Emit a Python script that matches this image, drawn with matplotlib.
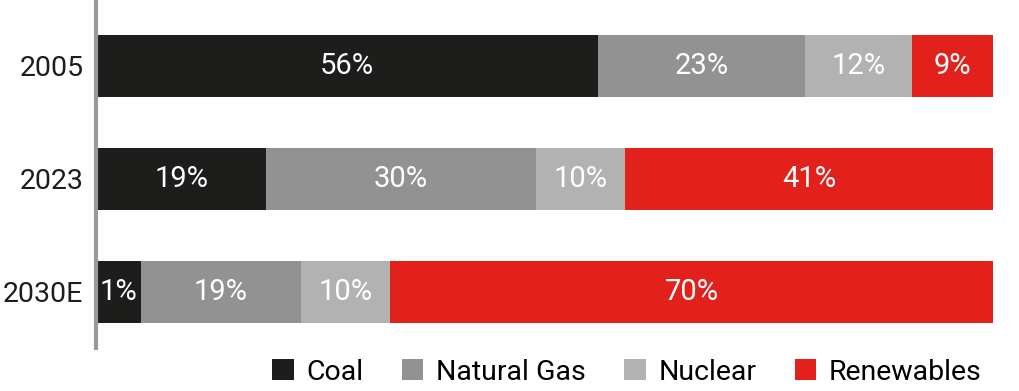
import matplotlib.pyplot as plt
from matplotlib.patches import Patch

years = ['2005', '2023', '2030E']
sources = ['Coal', 'Natural Gas', 'Nuclear', 'Renewables']
colors = ['#1d1d1b', '#929292', '#b2b2b2', '#e2211c']

# shares as printed on the bars
labels = [
    [56, 23, 12, 9],
    [19, 30, 10, 41],
    [1, 19, 10, 70],
]
# segment widths as drawn (the 1% coal bar is drawn wider)
widths = [
    [56, 23, 12, 9],
    [19, 30, 10, 41],
    [5, 17.8, 10, 67.2],
]

fig = plt.figure(figsize=(10.19, 3.91), dpi=100)
ax = fig.add_axes([96 / 1019, 1 - 348 / 391, (993 - 96) / 1019, 348 / 391])

for i, yr in enumerate(years):
    left = 0
    for j, src in enumerate(sources):
        w = widths[i][j]
        ax.barh(i, w, left=left, height=0.55, color=colors[j])
        ax.text(left + w / 2, i, f'{labels[i][j]}%', ha='center', va='center',
                color='white', fontsize=21, family='Roboto', fontweight='normal')
        left += w

ax.set_xlim(0, 100)
ax.set_ylim(2.5, -0.585)
ax.set_yticks(range(len(years)))
ax.set_yticklabels(years, fontsize=20.5, family='Roboto', fontweight='normal', color='#1d1d1b')
ax.tick_params(axis='y', length=0, pad=9)
ax.set_xticks([])
for s in ['top', 'right', 'bottom']:
    ax.spines[s].set_visible(False)
ax.spines['left'].set_color('#999999')
ax.spines['left'].set_linewidth(3)

handles = [Patch(facecolor=c, edgecolor='none') for c in colors]
fig.legend(handles, sources, loc='center right', bbox_to_anchor=(996 / 1019, 1 - 372 / 391),
           ncol=4, frameon=False, handlelength=0.75, handleheight=0.75, handletextpad=0.45,
           columnspacing=1.35, borderpad=0,
           prop={'family': 'Roboto', 'size': 20.5})

fig.savefig('out.png', dpi=100)
